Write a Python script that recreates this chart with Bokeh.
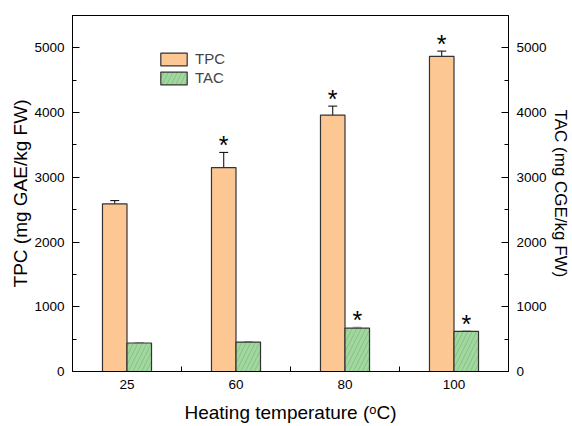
from bokeh.plotting import figure
from bokeh.models import (Range1d, LinearAxis, FixedTicker, ColumnDataSource, Whisker,
                          TeeHead, Legend, LegendItem)
from bokeh.core.properties import value
from bokeh.embed import file_html
from bokeh.resources import INLINE

categories = ["25", "60", "80", "100"]
tpc = [2590, 3150, 3960, 4870]
tpc_err = [50, 235, 140, 80]
tac = [440, 455, 670, 620]
tac_err = [8, 8, 15, 8]
tpc_sig = [False, True, True, True]
tac_sig = [False, False, True, True]
y_ticks = [0, 1000, 2000, 3000, 4000, 5000]
x_title = "Heating temperature (ᵒC)"
y_title_left = "TPC (mg GAE/kg FW)"
y_title_right = "TAC (mg CGE/kg FW)"

FONT = "Liberation Sans"
W = 0.225
YMAX = 5500

p = figure(width=572, height=426, output_backend="svg", toolbar_location=None,
           x_range=Range1d(0, len(categories)), y_range=Range1d(0, YMAX),
           min_border_left=72, min_border_right=58, min_border_top=15, min_border_bottom=55)
p.xgrid.visible = False
p.ygrid.visible = False
p.outline_line_color = "black"
p.outline_line_width = 1

centers = [i + 0.5 for i in range(len(categories))]
src = ColumnDataSource(dict(
    xt=[c - W / 2 for c in centers], xa=[c + W / 2 for c in centers],
    tpc=tpc, tac=tac,
    tpc_lo=[v - e for v, e in zip(tpc, tpc_err)], tpc_hi=[v + e for v, e in zip(tpc, tpc_err)],
    tac_lo=[v - e for v, e in zip(tac, tac_err)], tac_hi=[v + e for v, e in zip(tac, tac_err)],
))

r1 = p.vbar(x="xt", top="tpc", width=W, source=src, fill_color="#FDC794",
            line_color="#333333", line_width=1.2)
r2 = p.vbar(x="xa", top="tac", width=W, source=src, fill_color="#A2D89F",
            line_color="#333333", line_width=1.2,
            hatch_pattern="/", hatch_color="#5E9E5E", hatch_alpha=0.7, hatch_scale=9, hatch_weight=0.6)

p.add_layout(Whisker(base="xt", lower="tpc_lo", upper="tpc_hi", source=src, line_color="black",
                     line_width=1, upper_head=TeeHead(size=9, line_color="black", line_width=1),
                     lower_head=TeeHead(size=9, line_color="black", line_width=1)))
p.add_layout(Whisker(base="xa", lower="tac_lo", upper="tac_hi", source=src, line_color="#aaaaaa",
                     line_width=1, upper_head=TeeHead(size=9, line_color="#aaaaaa", line_width=1),
                     lower_head=TeeHead(size=9, line_color="#aaaaaa", line_width=1)))

sx, sy = [], []
for i, c in enumerate(centers):
    if tpc_sig[i]:
        sx.append(c - W / 2); sy.append(tpc[i] + tpc_err[i])
    if tac_sig[i]:
        sx.append(c + W / 2); sy.append(tac[i] + tac_err[i])
p.text(x=sx, y=sy, text=["*"] * len(sx), text_align="center", text_baseline="alphabetic",
       text_font=value(FONT), text_font_size="25px", text_color="black", y_offset=-7)

def style(ax, size="19px"):
    ax.axis_line_color = "black"
    ax.axis_line_width = 1
    ax.major_tick_in = 7
    ax.major_tick_out = 0
    ax.minor_tick_in = 4
    ax.minor_tick_out = 0
    ax.major_tick_line_color = "black"
    ax.minor_tick_line_color = "black"
    ax.major_label_text_font = FONT
    ax.major_label_text_font_size = "13.5px"
    ax.major_label_text_color = "black"
    ax.axis_label_text_font = FONT
    ax.axis_label_text_font_size = size
    ax.axis_label_text_font_style = "normal"
    ax.axis_label_text_color = "black"

xa = p.xaxis[0]
style(xa)
xa.ticker = FixedTicker(ticks=centers, minor_ticks=[1, 2, 3])
xa.major_label_overrides = {c: categories[i] for i, c in enumerate(centers)}
xa.major_tick_in = 0
xa.minor_tick_in = 5
xa.major_label_standoff = 8
xa.axis_label = x_title
xa.axis_label_standoff = 10

ya = p.yaxis[0]
style(ya)
ya.ticker = FixedTicker(ticks=y_ticks, minor_ticks=[500, 1500, 2500, 3500, 4500, 5500])
ya.major_label_standoff = 8
ya.axis_label = y_title_left
ya.axis_label_standoff = 0

yr = LinearAxis()
style(yr, "17px")
yr.ticker = FixedTicker(ticks=y_ticks, minor_ticks=[500, 1500, 2500, 3500, 4500, 5500])
yr.major_label_standoff = 8
yr.axis_label = y_title_right
yr.axis_label_standoff = 1
p.add_layout(yr, "right")

legend = Legend(items=[LegendItem(label="TPC", renderers=[r1]), LegendItem(label="TAC", renderers=[r2])],
                location=(85, 285), orientation="vertical", glyph_width=33, glyph_height=16,
                label_height=16, spacing=2, padding=0, margin=0, label_standoff=5,
                label_text_font=FONT, label_text_font_size="15px", border_line_alpha=0,
                background_fill_alpha=0)
p.add_layout(legend)

open("out.html", "w").write(file_html(p, INLINE))
